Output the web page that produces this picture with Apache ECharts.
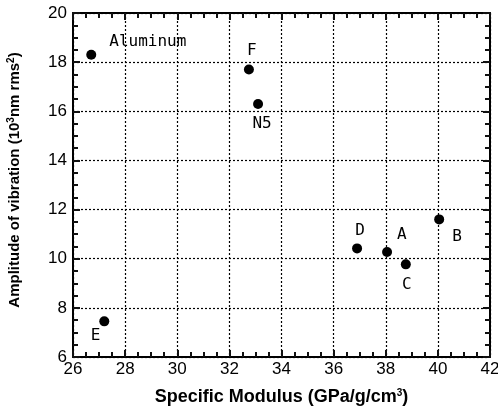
<!DOCTYPE html>
<html>
<head>
<meta charset="utf-8">
<script src="https://cdn.jsdelivr.net/npm/echarts@6/dist/echarts.min.js"></script>
<style>
  html, body { margin: 0; padding: 0; background: #fff; }
  #chart { width: 498px; height: 411px; }
</style>
</head>
<body>
<div id="chart"></div>
<script>
// data
const names = ['Aluminum', 'F', 'N5', 'E', 'D', 'A', 'C', 'B'];
const modulus = [26.7, 32.75, 33.1, 27.2, 36.9, 38.05, 38.77, 40.05];
const amplitude = [18.3, 17.7, 16.3, 7.45, 10.42, 10.27, 9.77, 11.6];

// where each label sits relative to its dot
const labelPlace = {
  'Aluminum': { position: 'right', offset: [8, -13] },
  'F': { position: 'top', offset: [3, -1] },
  'N5': { position: 'bottom', offset: [4, 2] },
  'E': { position: 'left', offset: [6, 14] },
  'D': { position: 'top', offset: [3, 0] },
  'A': { position: 'right', offset: [0, -17] },
  'C': { position: 'bottom', offset: [1, 2] },
  'B': { position: 'right', offset: [3, 17] }
};

const chart = echarts.init(document.getElementById('chart'));

const ink = '#111';
const tickFont = { fontFamily: 'Liberation Sans, Arial', fontSize: 17, color: '#000' };
const dotted = { show: true, lineStyle: { color: '#000', type: [2, 2], width: 1.2 } };
const supStyle = { sup: { fontSize: 10, fontWeight: 'bold', verticalAlign: 'top', padding: [0, 0, 7, 0] } };

const points = names.map((n, i) => ({
  name: n,
  value: [modulus[i], amplitude[i]],
  label: {
    show: true,
    formatter: n,
    position: labelPlace[n].position,
    offset: labelPlace[n].offset,
    fontFamily: 'DejaVu Sans Mono, monospace',
    fontSize: 16,
    color: '#000'
  }
}));

function axisBase(extra) {
  return Object.assign({
    type: 'value',
    interval: 2,
    axisLine: { show: true, onZero: false, lineStyle: { color: '#000', width: 2 } },
    axisTick: { show: true, inside: true, length: 7, lineStyle: { color: ink, width: 2 } },
    minorTick: { show: true, splitNumber: 4, length: 5, lineStyle: { color: ink, width: 2 } },
    splitLine: { show: false }
  }, extra);
}

chart.setOption({
  animation: false,
  grid: { left: 73, right: 8, top: 13, bottom: 54, outerBoundsMode: 'none' },
  xAxis: [
    axisBase({
      min: 26, max: 42, position: 'bottom',
      axisLabel: Object.assign({ margin: 4 }, tickFont),
      splitLine: dotted,
      name: 'Specific Modulus (GPa/g/cm{sup|3})',
      nameLocation: 'middle',
      nameGap: 31,
      nameTextStyle: {
        fontFamily: 'Liberation Sans, Arial', fontSize: 18, fontWeight: 'bold', color: '#000',
        rich: supStyle
      }
    }),
    axisBase({ min: 26, max: 42, position: 'top', axisLabel: { show: false } })
  ],
  yAxis: [
    axisBase({
      min: 6, max: 20, position: 'left',
      axisLabel: Object.assign({ margin: 6 }, tickFont),
      splitLine: dotted,
      name: 'Amplitude of vibration (10{sup|3}nm rms{sup|2})',
      nameLocation: 'middle',
      nameGap: 50,
      nameTextStyle: {
        fontFamily: 'Liberation Sans, Arial', fontSize: 15, fontWeight: 'bold', color: '#000',
        padding: [0, 0, 0, 10],
        rich: supStyle
      }
    }),
    axisBase({ min: 6, max: 20, position: 'right', axisLabel: { show: false } })
  ],
  series: [{
    type: 'scatter',
    symbol: 'circle',
    symbolSize: 10,
    itemStyle: { color: '#000', opacity: 1 },
    data: points
  }]
});
</script>
</body>
</html>
